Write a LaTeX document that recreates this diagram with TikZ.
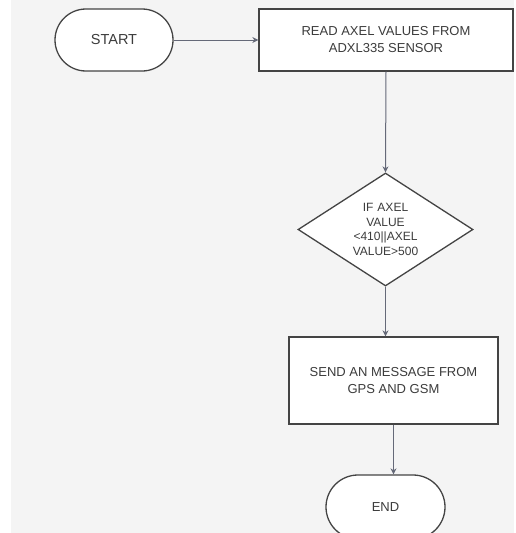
\documentclass[tikz,border=0pt]{standalone}
\usepackage{fontspec}
\setmainfont{Liberation Sans}
\usetikzlibrary{shapes.geometric,arrows.meta}
\definecolor{bggray}{HTML}{F4F4F4}
\definecolor{edgegray}{HTML}{444444}
\definecolor{arrowgray}{HTML}{656978}
\definecolor{textgray}{HTML}{3C3C3C}
\begin{document}
\begin{tikzpicture}[x=1pt,y=-1pt,
  box/.style={draw=edgegray,fill=white,line width=1.3pt,rectangle,inner sep=0pt,align=center,text=textgray,font=\fontsize{13}{17}\selectfont},
  stadium/.style={draw=edgegray,fill=white,line width=1.3pt,rectangle,rounded corners=31pt,inner sep=0pt,align=center,text=textgray,font=\fontsize{13}{17}\selectfont},
  decision/.style={draw=edgegray,fill=white,line width=1.3pt,diamond,aspect=1.55,inner sep=0pt,align=center,text width=80pt,text=textgray,font=\fontsize{12}{14.5}\selectfont},
  flow/.style={draw=arrowgray,line width=1pt,-{Stealth[length=6pt,width=6pt]}}
]
\useasboundingbox (0,0) rectangle (515,533);
\clip (0,0) rectangle (515,533);
\fill[white] (0,0) rectangle (515,533);
\fill[bggray] (11,0) rectangle (514,533);

\node[stadium,minimum width=118pt,minimum height=62pt,font=\fontsize{14.5}{17}\selectfont] (start) at (114,40) {START};
\node[box,minimum width=254pt,minimum height=62pt] (read) at (386,40) {READ AXEL VALUES FROM\\ADXL335 SENSOR};
\node[decision,minimum width=175pt,minimum height=113pt] (dec) at (385.5,229.5) {IF AXEL\\VALUE\\<410||AXEL\\VALUE>500};
\node[box,minimum width=209pt,minimum height=87pt] (send) at (393.5,380.5) {SEND AN MESSAGE FROM\\GPS AND GSM};
\node[stadium,rounded corners=32pt,minimum width=119pt,minimum height=64pt] (end) at (385.5,507) {END};

\draw[flow] (start.east) -- (read.west);
\draw[flow] (read.south) -- (dec.north);
\draw[flow] (dec.south) -- (dec.south |- send.north);
\draw[flow] (send.south) -- (send.south |- end.north);
\end{tikzpicture}
\end{document}
